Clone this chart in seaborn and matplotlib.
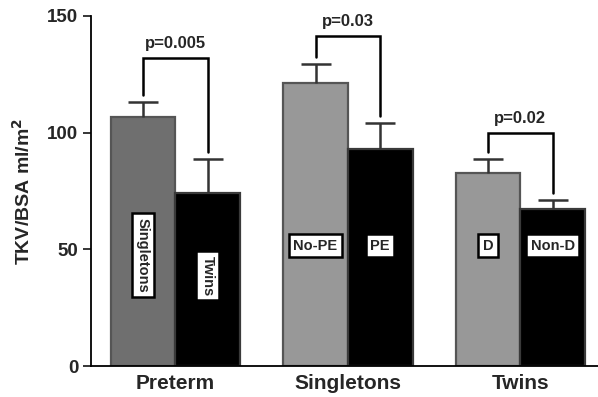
import matplotlib
matplotlib.use("Agg")
import matplotlib.pyplot as plt
import seaborn as sns
import pandas as pd

# values
groups = ["Preterm", "Singletons", "Twins"]
first_labels = ["Singletons", "No-PE", "D"]
second_labels = ["Twins", "PE", "Non-D"]
first_mean = [106.7, 121.3, 82.7]
first_err = [6.4, 8.1, 6.0]
second_mean = [74.1, 93.0, 67.3]
second_err = [14.6, 11.1, 3.8]
p_values = ["p=0.005", "p=0.03", "p=0.02"]
bracket_top = [132.0, 141.4, 100.0]

first_colors = ["#6f6f6f", "#989898", "#989898"]
second_colors = ["#000000", "#000000", "#000000"]

df = pd.DataFrame({
    "group": groups * 2,
    "pos": ["first"] * 3 + ["second"] * 3,
    "value": first_mean + second_mean,
})

sns.set_style("white")
plt.rcParams["font.family"] = ["Liberation Sans", "DejaVu Sans"]
plt.rcParams["font.weight"] = "bold"

fig = plt.figure(figsize=(5.98, 3.97), dpi=100)
ax = fig.add_axes([0.152, 0.078, 0.848, 0.882])

sns.barplot(data=df, x="group", y="value", hue="pos", order=groups,
            hue_order=["first", "second"], width=0.75, gap=0,
            errorbar=None, legend=False, ax=ax)

err_color = "#333333"
centers = []
for cont, cols, errs, means in zip(
        ax.containers, [first_colors, second_colors],
        [first_err, second_err], [first_mean, second_mean]):
    xs = []
    for patch, c in zip(cont.patches, cols):
        patch.set_facecolor(c)
        patch.set_edgecolor("#555555" if c != "#000000" else "#3a3a3a")
        patch.set_linewidth(1.6)
        xs.append(patch.get_x() + patch.get_width() / 2)
    _, caps, _ = ax.errorbar(xs, means, yerr=[[0] * 3, errs], fmt="none",
                             ecolor=err_color, elinewidth=1.8, capsize=10.5,
                             capthick=1.8, zorder=3)
    # keep only the upper cap
    caps[0].set_visible(False)
    centers.append(xs)

# significance brackets
for i in range(3):
    x1, x2 = centers[0][i], centers[1][i]
    y1 = first_mean[i] + first_err[i] + 3
    y2 = second_mean[i] + second_err[i] + 3
    top = bracket_top[i]
    ax.plot([x1, x1, x2, x2], [y1, top, top, y2], color="black", lw=1.8,
            solid_joinstyle="miter", zorder=3)
    ax.text((x1 + x2) / 2, top + 2.8, p_values[i], ha="center", va="bottom",
            fontsize=12, fontweight="bold")

# labels inside bars
box = dict(boxstyle="square,pad=0.3", facecolor="white",
           edgecolor="black", lw=1.8)
ax.text(centers[0][0], 47.6, first_labels[0], rotation=270, ha="center",
        va="center", fontsize=10.5, fontweight="bold", bbox=box)
ax.text(centers[1][0], 38.6, second_labels[0], rotation=270, ha="center",
        va="center", fontsize=10.5, fontweight="bold", bbox=box)
for i in range(1, 3):
    ax.text(centers[0][i], 51.5, first_labels[i], ha="center", va="center",
            fontsize=10.5, fontweight="bold", bbox=box)
    ax.text(centers[1][i], 51.5, second_labels[i], ha="center", va="center",
            fontsize=10.5, fontweight="bold", bbox=box)

ax.set_ylim(0, 150)
ax.set_xlim(-0.49, 2.45)
ax.set_yticks([0, 50, 100, 150])
ax.set_xlabel("")
ax.set_ylabel("TKV/BSA ml/m$^\\mathbf{2}$", fontsize=14, fontweight="bold",
              labelpad=10)
ax.tick_params(axis="y", direction="out", length=6, width=1.3,
               labelsize=13.5, left=True, pad=3)
ax.tick_params(axis="x", length=0, labelsize=15, pad=6)
for lab in ax.get_xticklabels() + ax.get_yticklabels():
    lab.set_fontweight("bold")

sns.despine(ax=ax)
for s in ["left", "bottom"]:
    ax.spines[s].set_color("black")
    ax.spines[s].set_linewidth(1.3)

fig.savefig("out.png", dpi=100)
